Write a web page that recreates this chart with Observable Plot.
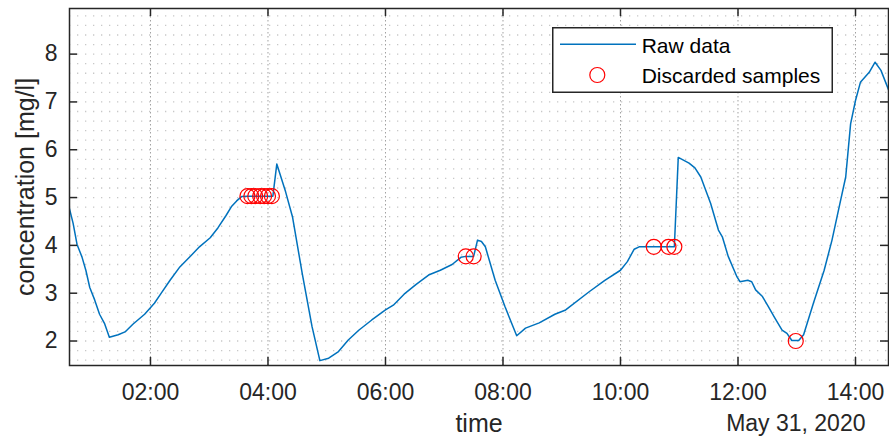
<!DOCTYPE html>
<html><head><meta charset="utf-8">
<script src="https://cdn.jsdelivr.net/npm/d3@7"></script>
<script src="https://cdn.jsdelivr.net/npm/@observablehq/plot@0.6"></script>
<style>
html,body{margin:0;padding:0;background:#fff;}
#wrap{position:relative;width:889px;height:439px;overflow:hidden;}
#legend{position:absolute;left:552px;top:27px;}
#legend text{font-family:"Liberation Sans",Arial,sans-serif;font-size:21px;fill:#000;}
</style></head><body><div id="wrap"><div id="chart"></div>
<div id="legend"><svg width="282" height="67">
<rect x="0.75" y="0.75" width="279.5" height="64.5" fill="#fff" stroke="#262626" stroke-width="1.5"/>
<line x1="8" x2="84" y1="17.3" y2="17.3" stroke="#0072BD" stroke-width="1.5"/>
<text x="89.7" y="26.3">Raw data</text>
<circle cx="45.3" cy="48" r="7.5" fill="none" stroke="#FF0000" stroke-width="1.2"/>
<text x="89.7" y="55.7">Discarded samples</text>
</svg></div></div>
<script>
// minutes after midnight, May 31, 2020
const timeMin = [37,41,45,50,54,58,63,68,73,78,87,94,102,114,124,131,140,150,162,170,181,189,197,203,208,213,219,223,227,232,236,240,245,249,258,265,275,285,293,302,312,322,333,346,360,368,379,391,404,416,428,437,442,450,454,458,462,472,482,494,503,517,533,544,568,584,600,607,614,619,634,649,655,659,670,676,682,692,700,704,710,719,722,730,734,738,745,751,758,765,770,775,779,782,787,797,808,816,824,830,835,840,845,854,860,866,874];
const conc = [4.79,4.46,4.02,3.76,3.48,3.12,2.86,2.56,2.37,2.08,2.13,2.19,2.35,2.56,2.79,3.00,3.27,3.55,3.80,3.97,4.16,4.37,4.62,4.82,4.93,5.02,5.03,5.03,5.03,5.03,5.03,5.03,5.03,5.70,5.12,4.60,3.41,2.30,1.59,1.64,1.78,2.02,2.23,2.44,2.65,2.75,2.98,3.18,3.38,3.48,3.60,3.75,3.77,3.77,4.11,4.08,3.97,3.27,2.72,2.11,2.27,2.38,2.56,2.65,3.03,3.27,3.48,3.66,3.92,3.97,3.97,3.97,3.97,5.84,5.72,5.62,5.43,4.88,4.32,4.18,3.77,3.34,3.24,3.27,3.24,3.07,2.93,2.72,2.47,2.23,2.16,2.01,2.01,2.01,2.13,2.79,3.48,4.11,4.87,5.43,6.54,7.03,7.41,7.62,7.83,7.66,7.24];
const discardedMin = [219,223,227,232,236,240,244,442,450,634,649,655,779];
const discardedConc = [5.03,5.03,5.03,5.03,5.03,5.03,5.03,3.77,3.77,3.97,3.97,3.97,2.00];
const xTickLabels = ["02:00","04:00","06:00","08:00","10:00","12:00","14:00"];
const yTicks = [2,3,4,5,6,7,8];
const xLimitsMin = [37.3, 873.7];
const yLimits = [1.488, 8.954];
const xLabel = "time";
const yLabel = "concentration [mg/l]";
const dateLabel = "May 31, 2020";

const base = Date.UTC(2020,4,31,0,0);
const toDate = m => new Date(base + m*60000);
const parseHM = s => { const [h,m] = s.split(":").map(Number); return toDate(h*60+m); };
const raw = timeMin.map((m,i)=>({t: toDate(m), c: conc[i]}));
const disc = discardedMin.map((m,i)=>({t: toDate(m), c: discardedConc[i]}));
const xTicks = xTickLabels.map(parseHM);
const minorY = d3.range(16, 90, 2).map(v => v/10);
const fmt = d3.utcFormat("%H:%M");
const FONT = '"Liberation Sans", Arial, Helvetica, sans-serif';
const W = 889, H = 439, ML = 69, MR = 1, MT = 8, MB = 74;
const PW = W-ML-MR, PH = H-MT-MB, TL = 8;

const chart = Plot.plot({
  width: W, height: H, marginLeft: ML, marginRight: MR, marginTop: MT, marginBottom: MB,
  style: {fontFamily: FONT, fontSize: "23px", color: "#262626", background: "#fff", overflow: "visible"},
  x: {type: "utc", domain: xLimitsMin.map(toDate)},
  y: {domain: yLimits},
  marks: [
    Plot.ruleY(minorY, {stroke: "#c8c8c8", strokeWidth: 1.3, strokeDasharray: "1.3,6.7"}),
    Plot.ruleX(xTicks, {stroke: "#a0a0a0", strokeWidth: 1, strokeDasharray: "1.5,2.5"}),
    Plot.line(raw, {x: "t", y: "c", stroke: "#0072BD", strokeWidth: 1.5, clip: true}),
    Plot.dot(disc, {x: "t", y: "c", r: 7.5, stroke: "#FF0000", strokeWidth: 1.2, fill: "none"}),
    Plot.frame({stroke: "#262626", strokeWidth: 1.5}),
    Plot.tickY(yTicks, {y: d => d, insetRight: PW-TL, stroke: "#262626", strokeWidth: 1.5}),
    Plot.tickY(yTicks, {y: d => d, insetLeft: PW-TL, stroke: "#262626", strokeWidth: 1.5}),
    Plot.tickX(xTicks, {x: d => d, insetTop: PH-TL, stroke: "#262626", strokeWidth: 1.5}),
    Plot.tickX(xTicks, {x: d => d, insetBottom: PH-TL, stroke: "#262626", strokeWidth: 1.5}),
    Plot.axisX({ticks: xTicks, tickFormat: fmt, tickSize: 0, tickPadding: 18, fontSize: 23, label: null, fill: "#262626"}),
    Plot.axisY({ticks: yTicks, tickSize: 0, tickPadding: 12, fontSize: 23, label: null, fill: "#262626"}),
    Plot.text([xLabel], {text: d => d, frameAnchor: "bottom", dy: 66.5, textAnchor: "middle", lineAnchor: "bottom", fontSize: 25, fill: "#262626"}),
    Plot.text([dateLabel], {text: d => d, frameAnchor: "bottom-right", dx: -23, dy: 65, textAnchor: "end", lineAnchor: "bottom", fontSize: 23, fill: "#262626"}),
    Plot.text([yLabel], {text: d => d, frameAnchor: "left", rotate: -90, dx: -36, textAnchor: "middle", lineAnchor: "bottom", fontSize: 25, fill: "#262626"})
  ]
});
document.getElementById("chart").appendChild(chart);
</script>
</body></html>
